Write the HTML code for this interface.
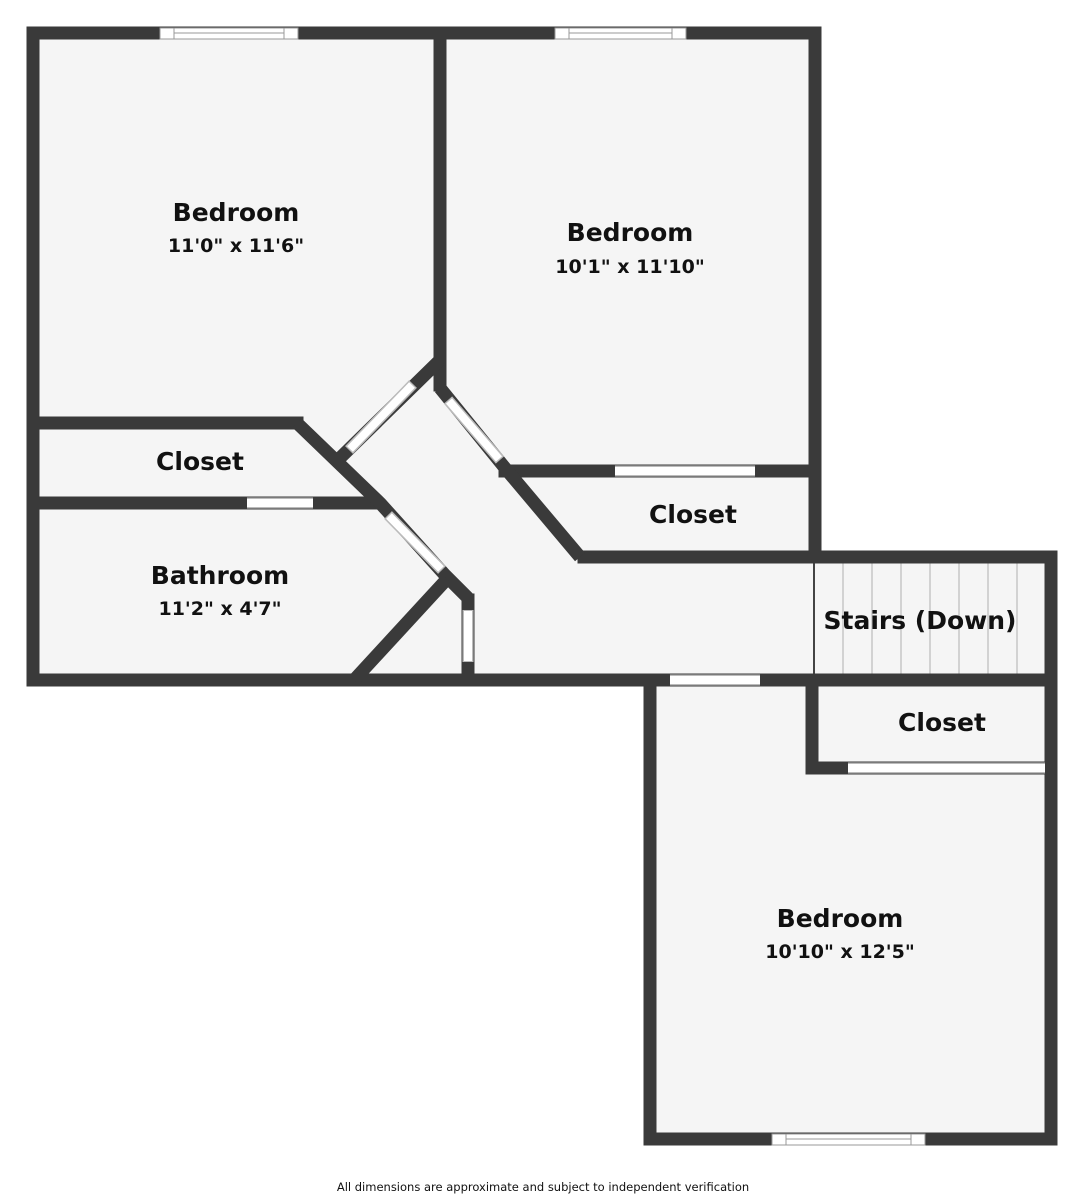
<!DOCTYPE html>
<html><head><style>
html,body{margin:0;padding:0;background:#fff;}
svg{display:block;}
text{font-family:"DejaVu Sans","Liberation Sans",sans-serif;font-weight:bold;fill:#111;text-anchor:middle;}
</style></head><body>
<svg width="1086" height="1200" viewBox="0 0 1086 1200" xmlns="http://www.w3.org/2000/svg">
<g fill="#f5f5f5">
<rect x="33" y="33" width="782" height="647"/>
<rect x="580" y="557" width="471" height="123"/>
<rect x="650" y="680" width="401" height="459"/>
</g>
<g stroke="#bbb" stroke-width="1.2">
<line x1="814" y1="563" x2="814" y2="674" stroke="#444" stroke-width="2"/>
<line x1="843" y1="563" x2="843" y2="674"/><line x1="872" y1="563" x2="872" y2="674"/>
<line x1="901" y1="563" x2="901" y2="674"/><line x1="930" y1="563" x2="930" y2="674"/>
<line x1="959" y1="563" x2="959" y2="674"/><line x1="988" y1="563" x2="988" y2="674"/>
<line x1="1017" y1="563" x2="1017" y2="674"/>
</g>
<g stroke="#3a3a3a" stroke-width="13" fill="none" stroke-linejoin="miter" stroke-linecap="square">
<polyline points="815,557 815,33 33,33 33,680 1051,680"/>
<polyline points="584,557 1051,557 1051,1139 650,1139 650,680"/>
<line x1="440" y1="33" x2="440" y2="385"/>
<line x1="33" y1="423" x2="297" y2="423"/>
<line x1="33" y1="503" x2="375" y2="503"/>
<line x1="505" y1="471" x2="815" y2="471"/>
<polyline points="1051,768 812,768 812,680"/>
<line x1="468" y1="600" x2="468" y2="680"/>
</g>
<g stroke="#3a3a3a" stroke-width="13" fill="none" stroke-linejoin="round" stroke-linecap="butt">
<polyline points="297,423 380,503 445,575 468,598"/>
<line x1="447" y1="579" x2="354" y2="680"/>
<line x1="440" y1="360" x2="340" y2="458"/>
<polyline points="440,388 505,468 580,557"/>
</g>
<g stroke="#bbb" stroke-width="11" stroke-linecap="butt">
<line x1="247" y1="503" x2="313" y2="503"/>
<line x1="615" y1="471" x2="755" y2="471"/>
<line x1="670" y1="680" x2="760" y2="680"/>
<line x1="848" y1="768" x2="1045" y2="768"/>
<line x1="468" y1="610" x2="468" y2="662"/>
<line x1="349" y1="450" x2="413" y2="384"/>
<line x1="448" y1="400" x2="500" y2="460"/>
<line x1="388" y1="515" x2="442" y2="570"/>
</g>
<g stroke="#fff" stroke-width="8" stroke-linecap="butt">
<line x1="247" y1="503" x2="313" y2="503"/>
<line x1="615" y1="471" x2="755" y2="471"/>
<line x1="670" y1="680" x2="760" y2="680"/>
<line x1="848" y1="768" x2="1045" y2="768"/>
<line x1="468" y1="611" x2="468" y2="661"/>
<line x1="350" y1="449" x2="412" y2="385"/>
<line x1="449" y1="401" x2="499" y2="459"/>
<line x1="389" y1="516" x2="441" y2="569"/>
</g>
<g fill="#fff" stroke="#999" stroke-width="1">
<rect x="160" y="28" width="138" height="11"/><line x1="174" y1="33" x2="284" y2="33"/>
<line x1="174" y1="28" x2="174" y2="39"/><line x1="284" y1="28" x2="284" y2="39"/>
<rect x="555" y="28" width="131" height="11"/><line x1="569" y1="33" x2="672" y2="33"/>
<line x1="569" y1="28" x2="569" y2="39"/><line x1="672" y1="28" x2="672" y2="39"/>
<rect x="772" y="1134" width="153" height="11"/><line x1="786" y1="1139" x2="911" y2="1139"/>
<line x1="786" y1="1134" x2="786" y2="1145"/><line x1="911" y1="1134" x2="911" y2="1145"/>
</g>
<text x="236" y="221" font-size="25">Bedroom</text>
<text x="236" y="252" font-size="19">11'0" x 11'6"</text>
<text x="630" y="241" font-size="25">Bedroom</text>
<text x="630" y="273" font-size="19">10'1" x 11'10"</text>
<text x="200" y="470" font-size="25">Closet</text>
<text x="220" y="584" font-size="25">Bathroom</text>
<text x="220" y="615" font-size="19">11'2" x 4'7"</text>
<text x="693" y="523" font-size="25">Closet</text>
<text x="920" y="629" font-size="25">Stairs (Down)</text>
<text x="942" y="731" font-size="25">Closet</text>
<text x="840" y="927" font-size="25">Bedroom</text>
<text x="840" y="958" font-size="19">10'10" x 12'5"</text>
<text x="543" y="1191" font-size="11.5" style="font-weight:normal">All dimensions are approximate and subject to independent verification</text>
</svg>
</body></html>
